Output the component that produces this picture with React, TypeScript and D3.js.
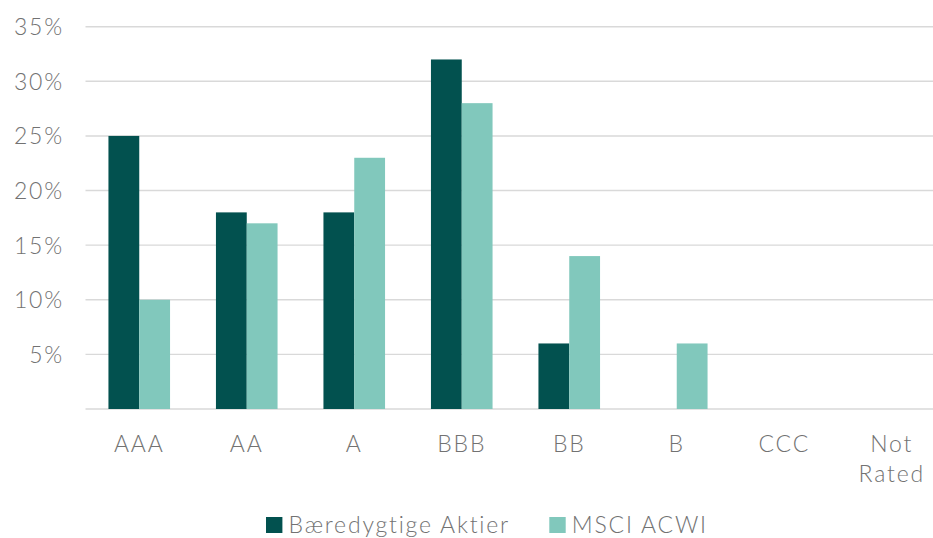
import React, { useEffect, useRef } from 'react';
import * as d3 from 'd3';

const categories = ['AAA', 'AA', 'A', 'BBB', 'BB', 'B', 'CCC', 'Not Rated'];
const seriesNames = ['Bæredygtige Aktier', 'MSCI ACWI'];
const fundValues = [25, 18, 18, 32, 6, 0, 0, 0];
const benchValues = [10, 17, 23, 28, 14, 6, 0, 0];
const yTicks = [5, 10, 15, 20, 25, 30, 35];
const colors = ['#02514F', '#81C8BC'];

const width = 933;
const height = 538;
const FONT = 'Lato, "Open Sans", sans-serif';
const TEXT = '#727272';

const App: React.FC = () => {
  const svgRef = useRef<SVGSVGElement>(null);

  useEffect(() => {
    if (!svgRef.current) return;
    const svg = d3.select(svgRef.current);
    svg.selectAll('*').remove();

    const x = d3.scaleBand<string>().domain(categories).range([85.5, 945.5]).padding(0);
    const x1 = d3.scaleBand<string>()
      .domain(seriesNames)
      .range([0, x.bandwidth()])
      .paddingInner(0)
      .paddingOuter(0.745);
    const y = d3.scaleLinear().domain([0, 35]).range([409, 26.7]);

    const textStyle = (sel: any) => sel
      .attr('fill', TEXT)
      .style('font-family', FONT)
      .style('font-size', '23px')
      .style('font-weight', 300)
      .style('letter-spacing', '1.8px');

    // gridlines
    svg.append('g').selectAll('line')
      .data([0, ...yTicks])
      .enter().append('line')
      .attr('x1', 85.5)
      .attr('x2', width)
      .attr('y1', d => y(d))
      .attr('y2', d => y(d))
      .attr('stroke', '#d9d9d9')
      .attr('stroke-width', 1.4);

    // y labels
    svg.append('g').selectAll('text')
      .data(yTicks)
      .enter().append('text')
      .attr('x', 64)
      .attr('y', d => y(d) + 8.5)
      .attr('text-anchor', 'end')
      .call(textStyle)
      .text(d => `${d}%`);

    // bars
    const rows = categories.map((c, i) => ({ cat: c, vals: [fundValues[i], benchValues[i]] }));
    const groups = svg.append('g').selectAll('g')
      .data(rows)
      .enter().append('g')
      .attr('transform', d => `translate(${x(d.cat)},0)`);
    groups.selectAll('rect')
      .data(d => d.vals.map((v, k) => ({ key: seriesNames[k], v, k })))
      .enter().append('rect')
      .attr('x', d => x1(d.key)!)
      .attr('width', x1.bandwidth())
      .attr('y', d => y(d.v))
      .attr('height', d => y(0) - y(d.v))
      .attr('fill', d => colors[d.k]);

    // category labels (Not Rated wraps on two lines)
    const catLabels = svg.append('g').selectAll('text')
      .data(categories)
      .enter().append('text')
      .attr('x', d => x(d)! + x.bandwidth() / 2)
      .attr('y', 452)
      .attr('text-anchor', 'middle')
      .call(textStyle);
    catLabels.each(function (d) {
      const t = d3.select(this);
      d.split(' ').forEach((p, i) => {
        t.append('tspan')
          .attr('x', x(d)! + x.bandwidth() / 2)
          .attr('dy', i === 0 ? 0 : 30)
          .text(p);
      });
    });

    // legend
    const legendX = [266, 549.3];
    const legend = svg.append('g');
    seriesNames.forEach((name, i) => {
      legend.append('rect')
        .attr('x', legendX[i])
        .attr('y', 517)
        .attr('width', 16.4)
        .attr('height', 16)
        .attr('fill', colors[i]);
      legend.append('text')
        .attr('x', legendX[i] + 22.5)
        .attr('y', 532.5)
        .call(textStyle)
        .text(name);
    });
  }, []);

  return (
    <svg
      ref={svgRef}
      width={width}
      height={height}
      viewBox={`0 0 ${width} ${height}`}
      style={{ position: 'absolute', left: 0, top: 0, background: '#fff' }}
    />
  );
};

export default App;
